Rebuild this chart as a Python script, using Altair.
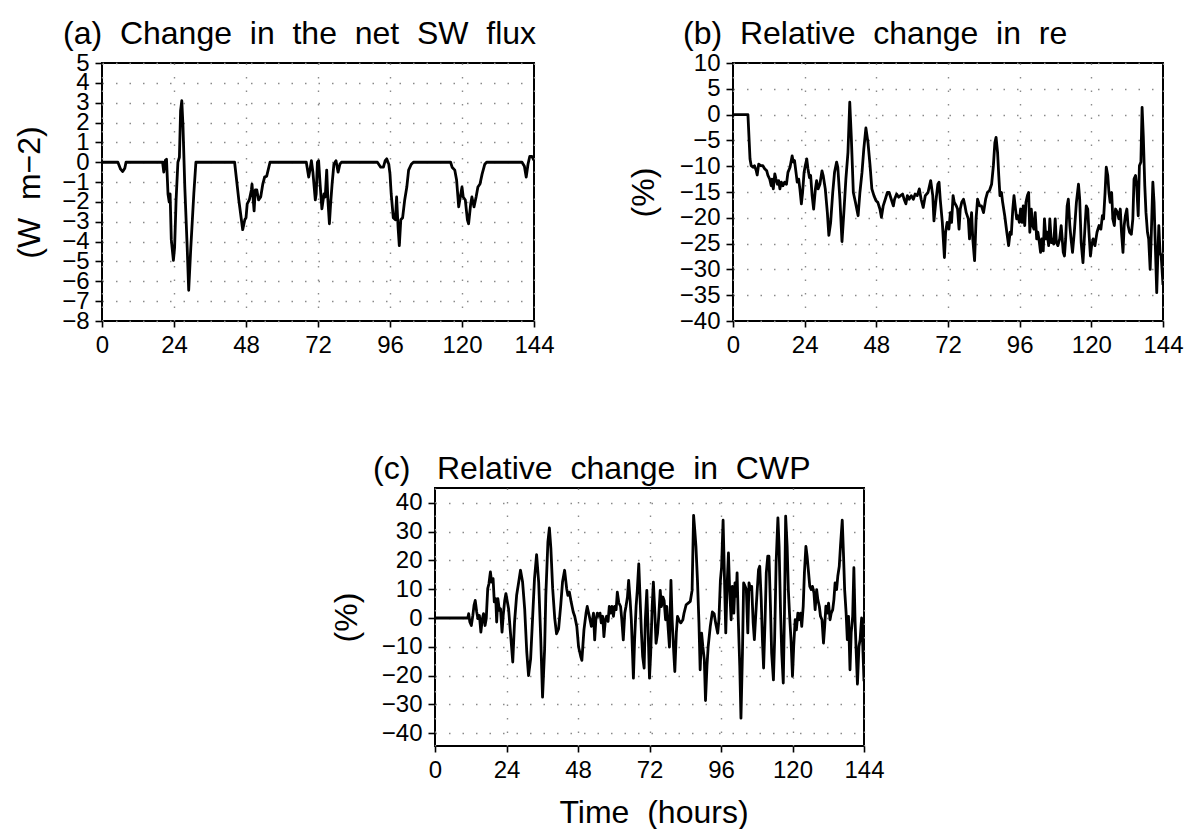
import altair as alt
import pandas as pd

# ---------------- data ----------------
X_TICKS = [0, 24, 48, 72, 96, 120, 144]

a_hours = [0, 5.3, 6.2, 6.9, 7.6, 8.0, 20.2, 20.6, 21.1, 21.5, 22.0, 22.4, 22.7, 23.1, 23.8, 24.2,
           24.7, 25.3, 25.8, 26.2, 26.6, 27.0, 27.6, 28.4, 28.9, 29.6, 30.6, 31.3, 44.2, 45.6, 46.9,
           47.6, 48.0, 48.4, 49.1, 49.8, 50.0, 50.7, 51.1, 51.6, 52.2, 52.9, 53.6, 54.2, 54.9, 56.0,
           68.1, 68.9, 69.3, 69.8, 70.3, 71.1, 71.4, 71.8, 72.2, 72.7, 73.3, 74.0, 74.4, 74.9, 75.3,
           75.8, 76.2, 76.7, 77.3, 78.0, 78.7, 79.3, 79.8, 91.8, 92.9, 93.8, 94.4, 94.9, 95.6, 96.0,
           96.4, 97.1, 97.8, 98.2, 98.7, 99.1, 99.6, 100.2, 100.9, 101.6, 102.2, 103.1, 103.8, 116.2,
           116.7, 117.6, 118.2, 118.9, 119.6, 120.0, 120.4, 121.1, 121.8, 122.2, 122.9, 123.3, 124.0,
           124.7, 125.3, 126.0, 126.7, 127.6, 128.2, 140.0, 140.8, 141.4, 142.0, 142.6, 143.3, 144.0]
a_flux = [0, 0, -0.35, -0.47, -0.3, 0, 0, -0.5, 0.1, 0.15, -1.6, -2.0, -1.6, -3.9, -4.95, -4.3,
          -1.9, 0, 0.25, 2.6, 3.1, 1.8, -1.25, -4.3, -6.45, -4.3, -1.6, 0, 0, -1.9, -3.4,
          -2.9, -2.8, -2.1, -1.9, -1.4, -1.1, -2.45, -1.4, -1.4, -1.9, -1.75, -1.1, -0.75, -0.7, 0,
          0, -0.75, -0.4, 0.08, -0.5, -1.9, -1.6, 0, 0.08, -1.1, -2.35, -1.6, -1.75, -0.4, -1.9,
          -3.1, -2.1, -1.1, -0.1, 0.08, -0.5, -0.1, 0, 0, -0.25, -0.25, 0.08, 0.17, -0.1, -0.6,
          -1.6, -2.8, -2.9, -1.75, -3.3, -4.2, -2.9, -2.8, -1.9, -1.25, -0.4, -0.1, 0, 0,
          -0.25, -0.4, -0.9, -2.25, -1.6, -1.25, -1.75, -1.9, -2.9, -3.1, -2.1, -1.75, -2.25,
          -1.75, -1.25, -1.1, -0.6, -0.1, 0, 0, -0.2, -0.75, -0.1, 0.3, 0.3, 0.1]

b_hours = [0, 5.0, 5.7, 6.1, 6.7, 7.2, 7.8, 8.1, 8.6, 9.3, 10.0, 10.6, 11.3, 11.7, 12.3, 12.8, 13.1,
           13.5, 14.0, 14.4, 14.9, 15.3, 15.7, 16.2, 16.7, 17.3, 17.9, 18.4, 19.1, 19.8, 20.2, 20.6,
           21.1, 21.5, 22.0, 22.4, 22.9, 23.3, 23.8, 24.2, 24.7, 25.1, 25.6, 26.0, 26.5, 27.0, 27.6,
           28.0, 28.5, 29.1, 29.8, 30.2, 30.9, 31.6, 32.1, 32.7, 33.4, 34.0, 34.7, 35.1, 35.8, 36.5,
           37.2, 37.8, 38.5, 39.1, 39.6, 40.3, 41.0, 41.9, 42.5, 43.2, 43.8, 44.5, 45.2, 45.9, 46.5,
           47.2, 47.9, 48.5, 49.2, 49.7, 50.3, 51.0, 51.7, 52.3, 53.0, 53.7, 54.1, 54.8, 55.5, 56.1,
           56.8, 57.3, 57.9, 58.4, 59.0, 59.7, 60.4, 61.0, 61.7, 62.4, 63.0, 63.7, 64.4, 65.3, 66.2,
           66.9, 67.3, 67.9, 68.6, 69.0, 69.4, 70.1, 70.8, 71.2, 71.7, 72.3, 72.8, 73.2, 73.7, 74.1,
           74.8, 75.2, 75.7, 76.1, 76.6, 77.2, 77.7, 78.1, 78.8, 79.2, 79.9, 80.3, 80.9, 81.4, 81.9,
           82.6, 83.2, 83.9, 84.6, 85.2, 85.9, 86.6, 87.2, 87.7, 88.1, 88.6, 89.0, 89.4, 89.9, 90.3,
           91.0, 91.7, 92.3, 92.8, 93.2, 93.7, 94.1, 94.6, 95.0, 95.4, 95.9, 96.3, 96.8, 97.2, 97.7,
           98.1, 98.6, 99.0, 99.4, 99.9, 100.3, 100.8, 101.2, 101.7, 102.1, 102.6, 103.0, 103.4,
           103.9, 104.3, 104.8, 105.2, 105.7, 106.1, 106.6, 107.0, 107.4, 107.9, 108.3, 108.8, 109.4,
           109.9, 110.6, 111.0, 111.4, 111.9, 112.3, 112.8, 113.2, 113.7, 114.3, 115.0, 115.7, 116.1,
           116.6, 117.2, 117.9, 118.3, 118.8, 119.2, 119.7, 120.1, 120.6, 121.2, 121.9, 122.6, 123.2,
           123.7, 124.1, 124.6, 125.0, 125.5, 125.9, 126.3, 126.8, 127.2, 127.7, 128.1, 128.8, 129.2,
           129.7, 130.1, 130.6, 131.0, 131.4, 131.9, 132.3, 132.8, 133.4, 133.9, 134.3, 134.8, 135.2,
           135.7, 136.1, 136.6, 137.0, 137.4, 137.9, 138.3, 138.8, 139.2, 139.7, 140.1, 140.6, 141.0,
           141.5, 141.9, 142.3, 142.6, 143.0, 143.4, 144.0]
b_re = [0, 0, -8.6, -9.9, -10.2, -9.9, -10.9, -11.7, -9.6, -9.9, -9.9, -10.5, -10.9, -11.8, -12.5,
        -13.8, -12.5, -14.4, -11.5, -12.5, -13.5, -12.8, -14.4, -13.1, -13.8, -13.1, -13.5, -11.2,
        -10.2, -8.0, -9.2, -8.9, -11.2, -13.1, -12.5, -14.4, -17.3, -15.1, -11.2, -9.9, -8.6, -10.5,
        -12.2, -11.8, -15.7, -18.3, -14.4, -12.8, -14.4, -13.5, -10.9, -11.8, -14.4, -19.0, -23.4,
        -20.9, -15.1, -11.2, -9.2, -10.2, -16.4, -24.6, -18.3, -12.5, -7.3, 2.4, -4.1, -15.1, -17.0,
        -19.6, -15.1, -11.2, -6.7, -2.6, -5.4, -9.9, -14.4, -15.7, -16.7, -17.0, -18.3, -19.9, -17.7,
        -16.4, -15.1, -15.1, -16.4, -17.7, -16.4, -15.4, -16.0, -15.7, -15.4, -16.4, -17.3, -15.7,
        -16.4, -15.7, -16.4, -15.4, -15.7, -14.4, -16.4, -18.0, -15.7, -15.1, -12.8, -15.7, -20.6,
        -17.0, -13.5, -13.1, -16.4, -20.9, -27.7, -22.8, -20.9, -22.2, -19.0, -20.9, -15.7, -17.0,
        -17.7, -18.3, -22.2, -18.3, -17.0, -16.4, -17.7, -19.0, -20.2, -24.1, -19.0, -24.1, -28.3,
        -20.2, -16.4, -17.7, -17.7, -19.0, -16.4, -15.1, -14.7, -13.5, -9.9, -5.4, -4.4, -7.3, -11.8,
        -15.7, -15.1, -17.0, -19.6, -22.8, -25.4, -22.8, -23.2, -18.3, -15.7, -18.3, -20.2, -19.6,
        -20.9, -18.3, -20.9, -17.7, -21.5, -17.0, -15.7, -15.1, -22.8, -18.3, -21.5, -22.2, -19.0,
        -24.1, -22.8, -24.8, -26.7, -24.1, -26.4, -20.2, -24.1, -22.8, -25.4, -20.2, -24.8, -24.1,
        -25.1, -20.2, -24.8, -25.4, -24.1, -21.5, -26.7, -27.4, -24.1, -17.7, -16.4, -21.5, -24.1,
        -26.7, -22.8, -17.0, -13.5, -16.4, -24.8, -28.7, -21.5, -17.7, -18.3, -22.8, -27.4, -25.4,
        -24.1, -25.4, -22.8, -21.5, -22.2, -19.6, -20.2, -15.1, -10.2, -11.8, -15.1, -17.0, -15.1,
        -20.2, -21.5, -18.3, -19.0, -20.2, -18.3, -22.8, -26.7, -21.5, -19.6, -18.3, -21.5, -22.8,
        -23.2, -20.2, -12.5, -11.8, -13.8, -19.6, -9.9, -9.2, 1.4, -4.1, -13.8, -19.0, -22.8, -24.1,
        -30.0, -22.8, -13.1, -17.0, -26.7, -34.5, -26.7, -21.5, -26.7, -27.4, -33.0]

c_hours = [0, 11.0, 11.3, 11.7, 12.2, 12.7, 13.1, 13.5, 14.0, 14.4, 14.9, 15.4, 15.9, 16.3, 16.8,
           17.2, 17.7, 18.1, 18.6, 19.0, 19.5, 19.9, 20.4, 20.7, 21.1, 21.6, 22.0, 22.5, 22.9, 23.4,
           23.8, 24.3, 24.7, 25.4, 26.1, 26.7, 27.4, 28.1, 28.7, 29.4, 30.1, 30.8, 31.4, 32.1, 32.8,
           33.4, 34.1, 34.8, 35.5, 36.1, 36.8, 37.2, 37.9, 38.4, 38.9, 39.5, 40.2, 40.8, 41.5, 42.2,
           42.8, 43.5, 44.2, 44.6, 45.1, 45.7, 46.4, 46.9, 47.6, 48.2, 48.9, 49.3, 50.0, 50.7, 51.1,
           51.8, 52.5, 53.2, 53.6, 54.0, 54.5, 54.9, 55.4, 55.8, 56.3, 56.7, 57.2, 57.6, 58.1, 58.5,
           59.0, 59.4, 59.9, 60.3, 60.8, 61.2, 61.7, 62.3, 62.7, 63.2, 63.7, 64.1, 64.6, 65.0, 65.5,
           65.9, 66.6, 67.0, 67.5, 67.9, 68.4, 68.8, 69.3, 69.7, 70.2, 70.6, 71.1, 71.5, 72.0, 72.4,
           72.9, 73.3, 73.8, 74.2, 74.7, 75.1, 75.6, 76.0, 76.5, 76.9, 77.4, 77.8, 78.3, 78.7, 79.2,
           79.6, 80.1, 80.5, 81.0, 81.4, 81.8, 82.5, 83.2, 83.6, 84.3, 85.0, 85.7, 86.3, 86.8, 87.2,
           87.6, 88.1, 88.6, 89.0, 89.5, 89.9, 90.4, 90.8, 91.3, 91.7, 92.4, 93.1, 93.7, 94.2, 94.9,
           95.3, 95.8, 96.2, 96.7, 97.1, 97.6, 98.0, 98.5, 98.9, 99.4, 99.8, 100.3, 100.7, 101.1,
           101.4, 101.8, 102.3, 102.7, 103.2, 103.6, 104.1, 104.5, 105.0, 105.4, 105.9, 106.3, 106.8,
           107.2, 107.7, 108.1, 108.6, 109.0, 109.5, 109.9, 110.3, 110.8, 111.2, 111.7, 112.1, 112.6,
           113.0, 113.6, 114.0, 114.5, 115.1, 115.5, 116.0, 116.4, 116.9, 117.3, 117.7, 118.2, 118.6,
           119.1, 119.5, 120.0, 120.4, 120.9, 121.3, 121.8, 122.2, 122.7, 123.1, 123.6, 124.0, 124.5,
           124.9, 125.4, 125.8, 126.3, 126.7, 127.2, 127.6, 128.1, 128.5, 129.0, 129.4, 129.9, 130.4,
           130.8, 131.2, 131.7, 132.1, 132.6, 133.0, 133.5, 133.9, 134.3, 134.8, 135.2, 135.7, 136.1,
           136.7, 137.1, 137.5, 138.0, 138.4, 138.8, 139.3, 139.7, 140.2, 140.6, 141.0, 141.4, 141.8,
           142.3, 142.7, 143.2, 143.6, 144.0]
c_cwp = [0, 0, 1.5, -1.4, -2.6, 0.9, 4.4, 6.1, 2.1, -0.2, 0.9, -4.9, -0.2, 1.5, -2.6,
         -0.2, 10.2, 11.9, 16.0, 12.5, 13.7, 5.6, 6.7, -1.4, 6.7, 2.7, 3.2, -4.9, 0.9, 6.1,
         8.5, 5.6, 3.2, -6.0, -15.3, -1.4, 7.9, 12.5, 16.6, 12.5, 3.2, -11.8, -20.0, -14.2, 0.9,
         13.7, 22.0, 12.5, -7.2, -27.5, -10.7, 7.9, 26.5, 31.3, 24.1, 10.2, -0.2, -5.5, -3.7, 4.4,
         12.5, 16.6, 10.2, 7.9, 9.0, 5.6, 2.1, 0.6, -2.9, -10.1, -13.3, -14.7, -4.1, 1.7, 4.0,
         0.6, -2.9, 1.7, -7.6, -0.6, 1.7, 0.6, 1.7, -1.7, 0.6, -6.5, -0.6, 0.6, -1.2, 4.0,
         1.7, 4.0, 0.6, 4.0, 2.9, 9.0, 5.3, 4.0, -0.6, -7.6, 1.7, 4.0, 7.3, 13.1, 6.1,
         -0.6, -20.9, -7.6, 4.0, 9.6, 18.8, 7.9, -5.3, -13.3, -17.4, -0.6, 9.6, -2.9, -20.9, -12.2,
         4.0, 12.5, 1.7, -8.8, -5.3, 0.6, 9.6, 4.0, 7.3, 6.1, -0.6, 4.0, -4.1, -10.1, 13.1,
         -0.6, -11.2, -18.6, -5.3, 0.6, -0.6, -1.7, -0.6, 1.7, 4.6, 5.2, 5.8, 9.6, 35.7, 30.5,
         24.7, 13.1, -1.7, -18.0, -5.3, -9.9, -14.5, -28.7, -16.5, -9.9, -2.9, 2.1, 1.5, -1.7, -5.3,
         -0.6, 13.1, 17.7, 34.0, 16.8, -5.2, 9.9, 22.6, 9.9, -0.6, 11.0, 1.7, 12.2, 7.5,
         15.7, -0.6, -16.8, -34.8, -12.2, 12.2, 11.0, 9.9, -5.2, 12.2, 9.9, 11.0, -1.7,
         -7.5, 1.7, 8.7, 16.8, 18.0, 6.4, -7.5, -17.4, -0.6, 15.7, 21.5, 21.5, 4.1,
         -12.2, -21.5, -7.5, 19.1, 34.8, 24.9, 1.7, -12.2, -22.6, 1.7, 35.4, 24.9, 9.9,
         -0.6, -7.5, -20.3, -9.9, -0.6, -4.1, 1.7, -0.6, 1.7, -2.9, 4.1, 15.7, 24.9,
         21.5, 15.7, 11.0, 9.9, 11.0, 8.7, 2.9, 9.9, 6.4, 4.1, 0.6, -0.6, -8.7,
         -2.9, 4.1, 1.7, 5.2, -0.6, 1.7, 2.9, 6.4, 12.2, 9.9, 14.5, 18.0, 24.9,
         34.0, 22.6, 9.9, 1.7, -7.5, 0.6, -18.0, -5.2, 0.6, 17.5, -1.0, -12.2, -23.0,
         -9.9, -7.5, 0.0, -10.0, -22.0]

a_yticks = [-8, -7, -6, -5, -4, -3, -2, -1, 0, 1, 2, 3, 4, 5]
b_yticks = [-40, -35, -30, -25, -20, -15, -10, -5, 0, 5, 10]
c_yticks = [-40, -30, -20, -10, 0, 10, 20, 30, 40]

FONT = "Liberation Sans"
SP = " \u00a0"  # wide word gap, as in the original lettering
FRAME = alt.ViewBackground(stroke="black", strokeWidth=2, fill="white")


def panel(hours, vals, ydom, yticks, title, tdx, tdy, ytitle, ytx, w, h, xtitle=None):
    df = pd.DataFrame({"hours": hours, "value": vals})
    common = dict(grid=True, gridColor="#8a8a8a", gridDash=[1.5, 12], gridWidth=1.4,
                  tickColor="black", tickWidth=1.6, domain=False,
                  labelFont=FONT, labelFontSize=24, labelColor="black",
                  labelOverlap=False)
    if xtitle:
        xaxis = alt.Axis(values=X_TICKS, format="d", labelFlush=False, title=xtitle,
                         tickSize=6, labelPadding=6,
                         titleX=w / 2 + 4, titleY=76, titleAlign="center",
                         titleBaseline="alphabetic", titleFont=FONT, titleFontSize=32,
                         titleFontWeight="normal", titleColor="black", **common)
    else:
        xaxis = alt.Axis(values=X_TICKS, format="d", labelFlush=False, title=None,
                         tickSize=6, labelPadding=6, **common)
    yaxis = alt.Axis(values=yticks, format="d", title=ytitle, titleX=ytx, titleY=h / 2,
                     tickSize=7, labelPadding=6,
                     titleAngle=270, titleAlign="center", titleBaseline="middle",
                     titleFont=FONT, titleFontSize=32, titleFontWeight="normal",
                     titleColor="black", **common)
    return (
        alt.Chart(df)
        .mark_line(color="black", strokeWidth=2.8, strokeJoin="round", clip=True)
        .encode(
            x=alt.X("hours:Q", scale=alt.Scale(domain=[0, 144], nice=False, zero=False), axis=xaxis),
            y=alt.Y("value:Q", scale=alt.Scale(domain=ydom, nice=False, zero=False), axis=yaxis),
        )
        .properties(
            width=w, height=h, view=FRAME,
            title=alt.TitleParams(text=title, anchor="start", frame="group", dx=tdx, dy=tdy,
                                  offset=3, baseline="bottom", font=FONT, fontSize=32,
                                  fontWeight="normal", color="black"),
        )
    )


chart_a = panel(a_hours, a_flux, [-8, 5], a_yticks,
                "(a)" + SP + "Change" + SP + "in" + SP + "the" + SP + "net" + SP + "SW" + SP + "flux",
                -39, 35, "(W" + SP + "m\u22122)", -73, 432, 258)
chart_b = panel(b_hours, b_re, [-40, 10], b_yticks,
                "(b)" + SP + "Relative" + SP + "change" + SP + "in" + SP + "re",
                -50, 35, "(%)", -90, 430, 258)
chart_c = panel(c_hours, c_cwp, [-44.5, 45.2], c_yticks,
                "(c)" + SP + "\u00a0Relative" + SP + "change" + SP + "in" + SP + "CWP",
                -62, 33, "(%)", -89, 429, 258, xtitle="Time" + SP + "(hours)")

SPACER_W = 226
spacer = (
    alt.Chart(pd.DataFrame({"hours": [0]}))
    .mark_rule(opacity=0)
    .encode(x=alt.value(0), x2=alt.value(SPACER_W), y=alt.value(100))
    .properties(width=SPACER_W, height=258,
                view=alt.ViewBackground(stroke="transparent", fill="transparent"))
)

top = alt.hconcat(chart_a, chart_b, spacing=70)
bottom = alt.hconcat(spacer, chart_c, spacing=0)

chart = (
    alt.vconcat(top, bottom, spacing=94)
    .properties(padding={"left": 12, "top": 17, "right": 5, "bottom": 0})
    .configure(background="white")
)

chart.save("out.html", embed_options={"renderer": "svg", "actions": False})
